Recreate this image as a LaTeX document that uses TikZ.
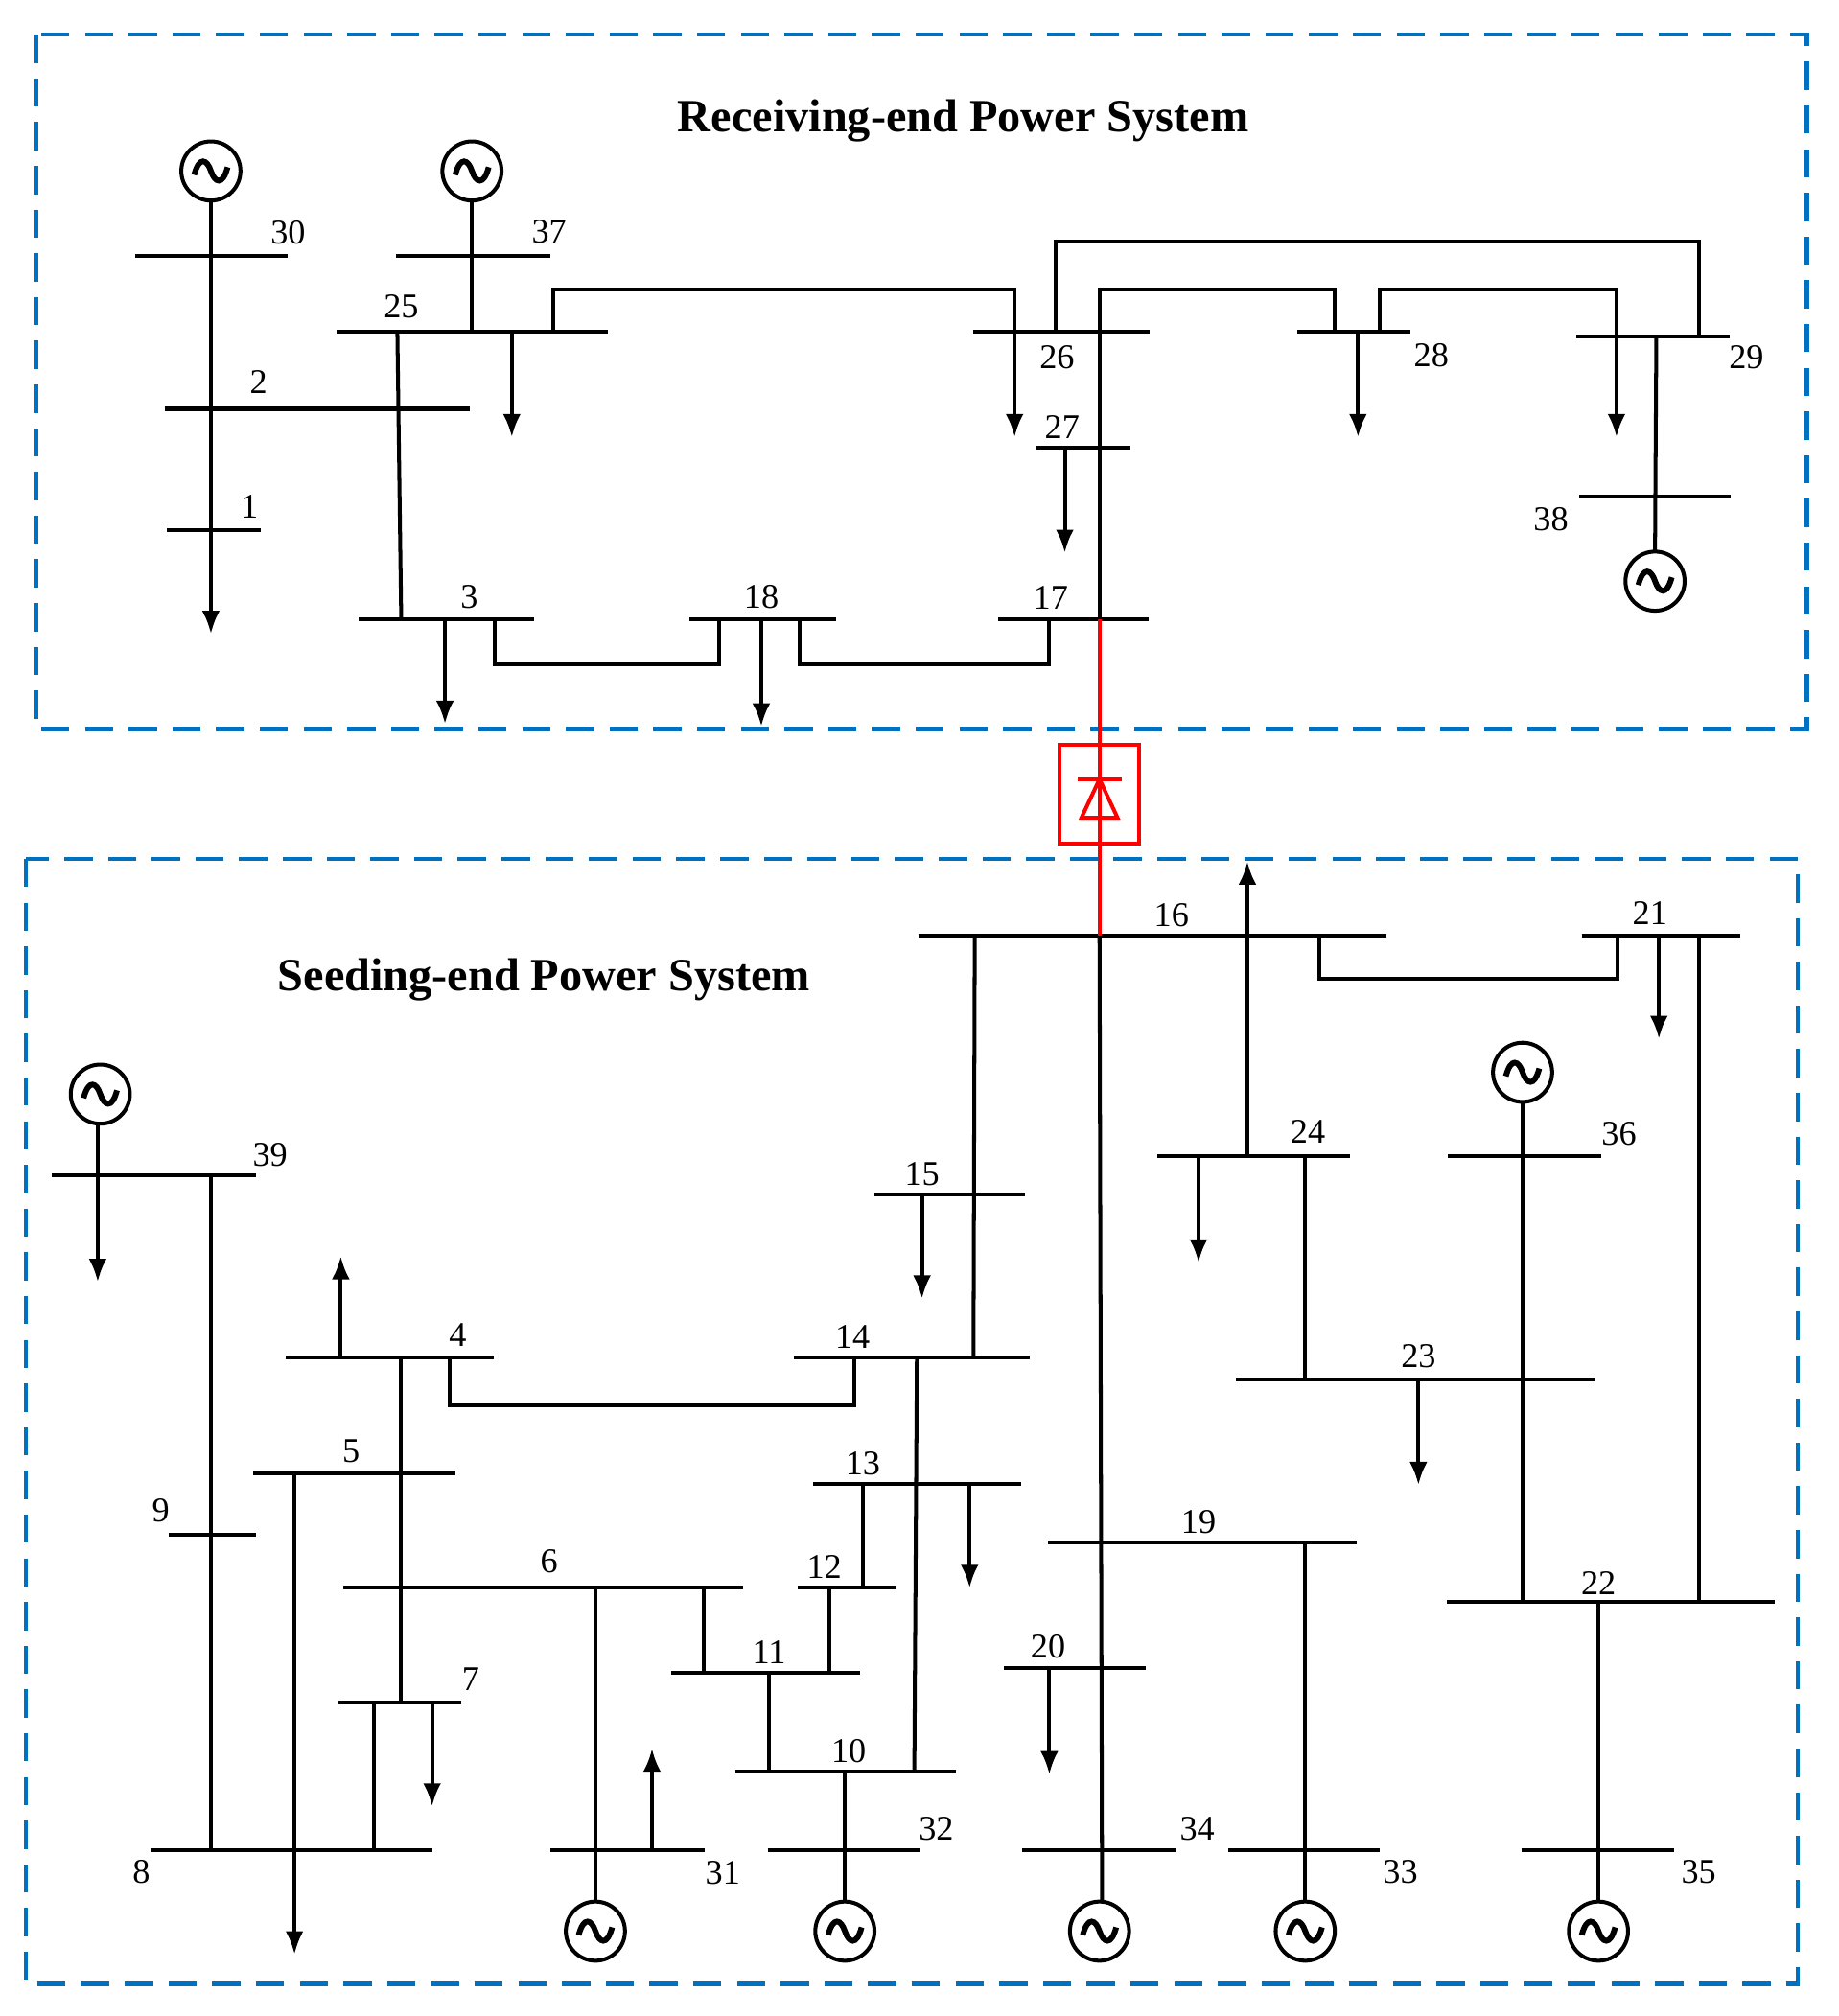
\documentclass[tikz,border=0pt]{standalone}
\usepackage{fontspec}
\setmainfont{Liberation Serif}
\usetikzlibrary{arrows.meta}
\begin{document}
\begin{tikzpicture}[x=0.5pt,y=-0.5pt,
  w/.style={line width=1.5pt,line join=miter},
  ld/.style={w,-{Latex[length=9pt,width=7pt]}},
  box/.style={line width=1.6pt,draw={rgb,255:red,0;green,112;blue,192},dash pattern=on 11pt off 6pt},
  lb/.style={font=\fontsize{13.5}{14}\selectfont,inner sep=0pt},
  ttl/.style={font=\fontsize{18}{20}\selectfont\bfseries,inner sep=0pt},
  gen/.pic={\draw[line width=1.5pt,fill=white] (0,0) circle (23);
    \draw[line width=2.2pt] (-13,3) .. controls (-9,-12) and (-3,-9) .. (0,0) .. controls (3,9) and (9,12) .. (13,-3);}]
\useasboundingbox (0,0) rectangle (1430,1568);
\draw[box] (28,27) rectangle (1405,567);
\draw[box] (20,668) rectangle (1398,1543);
\node[ttl] (t1) at (749,94) {Receiving-end Power System};
\node[ttl] (t2) at (423,762) {Seeding-end Power System};
% buses
\foreach \y/\a/\b/\lx/\ly/\t in {
199/105/224/224/181/30, 199/308/428/427/180/37, 258/262/473/312/238/25,
318/128/365/201/297/2, 412/130/203/194/394/1, 482/279/415/365/464/3,
482/536/650/592/464/18, 482/776/893/817/465/17, 258/757/894/822/278/26,
348/806/879/826/332/27, 258/1009/1097/1113/276/28, 262/1226/1345/1358/278/29,
386/1228/1346/1206/404/38, 728/714/1078/911/712/16, 728/1230/1353/1283/710/21,
899/900/1050/1017/880/24, 899/1126/1245/1259/882/36, 929/680/797/717/913/15,
914/40/199/210/898/39, 1056/222/384/356/1038/4, 1056/617/801/663/1040/14,
1073/961/1240/1103/1055/23, 1146/197/354/273/1129/5, 1154/632/794/671/1138/13,
1194/131/199/125/1175/9, 1200/815/1055/932/1184/19, 1235/267/578/427/1214/6,
1235/620/697/641/1219/12, 1246/1125/1380/1243/1231/22, 1301/522/669/598/1285/11,
1297/781/891/815/1281/20, 1324/263/359/366/1306/7, 1378/572/743/660/1362/10,
1439/117/336/110/1456/8, 1439/428/548/562/1457/31, 1439/597/716/728/1422/32,
1439/795/914/931/1422/34, 1439/955/1073/1089/1456/33, 1439/1183/1302/1321/1456/35}
{\draw[w] (\a,\y) -- (\b,\y); \node[lb] at (\lx,\ly) {\t};}
% generators
\foreach \n/\x/\y in {g30/164/133,g37/367/133,g38/1287/452,g39/78/851,g36/1184/834,
g31/463/1502,g32/657/1502,g34/855/1502,g33/1015/1502,g35/1243/1502}
{\coordinate (\n) at (\x,\y);}
% receiving-end connections
\draw[ld] (164,156) -- (164,493);
\draw[w] (367,156) -- (367,258);
\draw[w] (309,258) -- (312,482);
\draw[ld] (398,258) -- (398,340);
\draw[ld] (430,258) -- (430,225) -- (789,225) -- (789,340);
\draw[w] (821,258) -- (821,188) -- (1321,188) -- (1321,262);
\draw[w] (855,482) -- (855,225) -- (1038,225) -- (1038,258);
\draw[ld] (1073,258) -- (1073,225) -- (1257,225) -- (1257,340);
\draw[ld] (1056,258) -- (1056,340);
\draw[w] (1288,262) -- (1287,429);
\draw[ld] (828,348) -- (828,430);
\draw[ld] (346,482) -- (346,563);
\draw[w] (385,482) -- (385,517) -- (559,517) -- (559,482);
\draw[ld] (592,482) -- (592,565);
\draw[w] (622,482) -- (622,517) -- (816,517) -- (816,482);
% HVDC link
\draw[red,line width=1.5pt] (855,482) -- (855,728);
\draw[red,line width=1.5pt] (824,579) rectangle (886,656);
\draw[red,line width=1.5pt] (838,606) -- (872,606);
\draw[red,line width=1.5pt] (855,606) -- (841,636) -- (869,636) -- cycle;
% seeding-end connections
\draw[w] (855,728) -- (857,1479);
\draw[w] (758,728) -- (757,1056);
\draw[ld] (970,899) -- (970,670);
\draw[w] (1026,728) -- (1026,761) -- (1258,761) -- (1258,728);
\draw[ld] (1290,728) -- (1290,808);
\draw[w] (1321,728) -- (1321,1246);
\draw[w] (1184,857) -- (1184,1246);
\draw[w] (1015,899) -- (1015,1073);
\draw[ld] (932,899) -- (932,982);
\draw[ld] (1103,1073) -- (1103,1155);
\draw[w] (1015,1200) -- (1015,1479);
\draw[w] (1243,1246) -- (1243,1479);
\draw[ld] (717,929) -- (717,1010);
\draw[w] (664,1056) -- (664,1093) -- (350,1093) -- (350,1056);
\draw[w] (713,1056) -- (711,1378);
\draw[ld] (265,1056) -- (265,977);
\draw[w] (312,1056) -- (312,1324);
\draw[ld] (76,874) -- (76,997);
\draw[w] (164,914) -- (164,1439);
\draw[ld] (229,1146) -- (229,1520);
\draw[w] (291,1324) -- (291,1439);
\draw[ld] (336,1324) -- (336,1405);
\draw[w] (463,1235) -- (463,1479);
\draw[ld] (507,1439) -- (507,1360);
\draw[w] (547,1235) -- (547,1301);
\draw[w] (645,1301) -- (645,1235);
\draw[w] (671,1235) -- (671,1154);
\draw[ld] (754,1154) -- (754,1235);
\draw[w] (598,1301) -- (598,1378);
\draw[w] (657,1378) -- (657,1479);
\draw[ld] (816,1297) -- (816,1380);
% generator symbols on top
\foreach \n in {g30,g37,g38,g39,g36,g31,g32,g34,g33,g35} {\pic at (\n) {gen};}
\end{tikzpicture}
\end{document}
